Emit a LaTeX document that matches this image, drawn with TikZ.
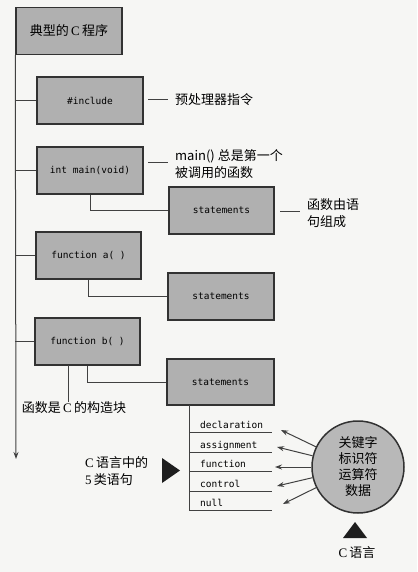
\documentclass[tikz,border=0pt]{standalone}
\usepackage{fontspec}
\setmainfont{Liberation Serif}
\newfontfamily\cjk{Noto Sans CJK SC}
\newfontfamily\mono{DejaVu Sans Mono}
\usetikzlibrary{arrows.meta,calc}
\definecolor{bg}{RGB}{246,246,244}
\definecolor{boxfill}{RGB}{176,176,176}
\definecolor{edge}{RGB}{50,50,50}
\definecolor{linec}{RGB}{65,65,65}
\definecolor{tri}{RGB}{30,30,30}
\begin{document}
\begin{tikzpicture}[x=1pt,y=-1pt,
  box/.style={draw=edge,line width=1.5pt,fill=boxfill,minimum width=106pt,minimum height=47pt,inner sep=0pt,font=\mono\fontsize{9.5}{11}\selectfont},
  conn/.style={draw=linec,line width=1pt},
  lbl/.style={inner sep=0pt,font=\cjk\fontsize{13}{17}\selectfont,align=left},
  code/.style={inner sep=0pt,font=\mono\fontsize{9.5}{11}\selectfont},
  tip/.style={-{Stealth[length=7pt,width=5pt]}},
  blackmark/.style={fill=tri,draw=none}
]
\fill[bg] (0,0) rectangle (417,572);
\useasboundingbox (0,0) rectangle (417,572);

% boxes
\node[box,font=\cjk\fontsize{13}{16}\selectfont] (title) at (69,31) {典型的\,{\rmfamily C}\,程序};
\node[box] (inc) at (90,100.5) {\#include};
\node[box] (mainf) at (90,170.5) {int main(void)};
\node[box,minimum width=105pt] (st1) at (221.5,210.5) {statements};
\node[box,minimum width=105pt] (fa) at (88.5,255.5) {function a( )};
\node[box] (st2) at (221,296.5) {statements};
\node[box,minimum width=105pt] (fb) at (87.5,341.5) {function b( )};
\node[box,minimum width=107pt,minimum height=46pt] (st3) at (220.5,382) {statements};

% trunk
\coordinate (trunkend) at (16,459);
\draw[conn,tip] (title.south west) -- (trunkend);
\draw[conn] (title.south west |- inc.west) -- (inc.west);
\draw[conn] (title.south west |- mainf.west) -- (mainf.west);
\draw[conn] (title.south west |- fa.west) -- (fa.west);
\draw[conn] (title.south west |- fb.west) -- (fb.west);

% sub connectors
\draw[conn] (mainf.south) |- (st1.west);
\draw[conn] (fa.south) |- (st2.west);
\draw[conn] (fb.south) |- (st3.west);

% side labels
\node[lbl,anchor=west] (lab1) at (175,100) {预处理器指令};
\draw[conn] ([xshift=-27pt]lab1.west) -- ([xshift=-7pt]lab1.west);
\node[lbl,anchor=west] (lab2) at (175,164) {main() 总是第一个\\被调用的函数};
\draw[conn] ([xshift=-27pt,yshift=1pt]lab2.west) -- ([xshift=-7pt,yshift=1pt]lab2.west);
\node[lbl,anchor=west] (lab3) at (307,213) {函数由语\\句组成};
\draw[conn] ([xshift=-27pt,yshift=2pt]lab3.west) -- ([xshift=-7pt,yshift=2pt]lab3.west);

% building block label
\node[lbl] (blk) at (74,408) {函数是\,{\rmfamily C}\,的构造块};
\coordinate (fbx) at (68,365);
\draw[conn] (fbx) -- (fbx |- blk.north);

% statement list
\coordinate (sv) at (189,405);
\coordinate (L1) at (272,432);
\coordinate (L2) at (272,452);
\coordinate (L3) at (272,471);
\coordinate (L4) at (272,491);
\coordinate (L5) at (272,510);
\draw[conn] (sv) -- (sv |- L5);
\foreach \i in {1,...,5} {\draw[conn] (sv |- L\i) -- (L\i);}
\node[code,anchor=base west] (s1) at (200,428) {declaration};
\node[code,anchor=base west] (s2) at (200,448) {assignment};
\node[code,anchor=base west] (s3) at (200,467) {function};
\node[code,anchor=base west] (s4) at (200,487) {control};
\node[code,anchor=base west] (s5) at (200,506) {null};

% circle
\node[circle,draw=edge,line width=1.5pt,fill=boxfill!90!white,minimum size=92pt,inner sep=0pt,
  font=\cjk\fontsize{13}{16}\selectfont,align=center] (circ) at (358,467) {关键字\\标识符\\运算符\\数据};
\coordinate (T1) at (281,430);
\coordinate (T2) at (277,447);
\coordinate (T3) at (275,467);
\coordinate (T4) at (277,486);
\coordinate (T5) at (283,504);
\foreach \i in {1,...,5} {\draw[conn,tip] (circ) -- (T\i);}

% markers and captions
\fill[blackmark] (162,458) -- (162,483) -- (180,470.5) -- cycle;
\node[lbl,anchor=west] (five) at (85,471) {{\rmfamily C}\,语言中的\\{\rmfamily 5}\,类语句};
\fill[blackmark] (343,538) -- (367,538) -- (355,522) -- cycle;
\node[lbl] (clang) at (357,553) {{\rmfamily C}\,语言};
\end{tikzpicture}
\end{document}
